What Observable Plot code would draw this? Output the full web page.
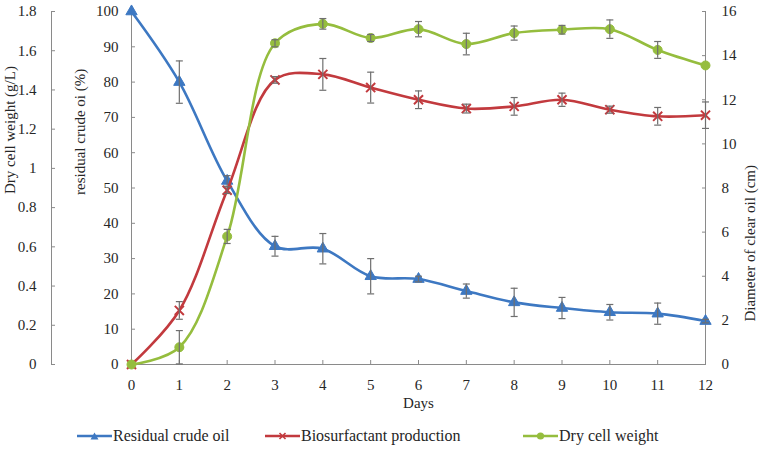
<!DOCTYPE html>
<html>
<head>
<meta charset="utf-8">
<script src="https://cdn.jsdelivr.net/npm/d3@7"></script>
<script src="https://cdn.jsdelivr.net/npm/@observablehq/plot@0.6"></script>
<style>
  body { margin: 0; background: #fff; font-family: "Liberation Serif", "Times New Roman", Times, "DejaVu Serif", serif; }
  #chart { position: relative; width: 760px; height: 456px; overflow: hidden; }
  #legend { position: absolute; left: 0; top: 420px; width: 760px; height: 36px; }
  .item { position: absolute; top: 7px; display: flex; align-items: center; font-size: 16px; color: #262626; white-space: nowrap; }
  .item svg { display: block; }
  #plot svg, #plot svg text { font-family: "Liberation Serif", "Times New Roman", Times, "DejaVu Serif", serif !important; }
</style>
</head>
<body>
<div id="chart"><div id="plot"></div><div id="legend"></div></div>
<script>
// ---- data ----
const days = [0, 1, 2, 3, 4, 5, 6, 7, 8, 9, 10, 11, 12];
// residual crude oil (%)
const residualOil    = [100, 80, 52, 33.5, 32.8, 25, 24.2, 20.8, 17.6, 16, 14.8, 14.4, 12.3];
const residualOilErr = [0, 6, 1.5, 2.8, 4.3, 5, 0.8, 2, 4, 3, 2.2, 3, 0.5];
// biosurfactant production: diameter of clear oil (cm)
const biosurfactant    = [0, 2.45, 7.9, 12.9, 13.15, 12.55, 12.0, 11.6, 11.7, 12.0, 11.55, 11.25, 11.3];
const biosurfactantErr = [0, 0.4, 0.15, 0.15, 0.72, 0.7, 0.4, 0.2, 0.4, 0.3, 0.16, 0.4, 0.6];
// dry cell weight (g/L)
const dryCellWeight    = [0, 0.088, 0.653, 1.638, 1.737, 1.665, 1.71, 1.634, 1.69, 1.707, 1.71, 1.604, 1.525];
const dryCellWeightErr = [0, 0.085, 0.036, 0.018, 0.027, 0.018, 0.039, 0.055, 0.036, 0.022, 0.047, 0.043, 0];
// tick labels
const oilTicks  = [0, 10, 20, 30, 40, 50, 60, 70, 80, 90, 100];
const dcwTicks  = [0, 0.2, 0.4, 0.6, 0.8, 1, 1.2, 1.4, 1.6, 1.8];
const diamTicks = [0, 2, 4, 6, 8, 10, 12, 14, 16];
const seriesNames = ["Residual crude oil", "Biosurfactant production", "Dry cell weight"];
const axisTitles = ["Dry cell weight (g/L)", "residual crude oi (%)", "Diameter of clear oil (cm)", "Days"];

// ---- scaling of the secondary axes onto the primary (%) axis ----
const DCW_MAX = 1.8, DIAM_MAX = 16;
const fromDcw = v => v / DCW_MAX * 100;
const fromDiam = v => v / DIAM_MAX * 100;

const colors = ["#3D78C2", "#C23A3E", "#95BD3E"];
const symbols = ["triangle", "times", "circle"];
const seriesData = [
  days.map((d, i) => ({day: d, v: residualOil[i], e: residualOilErr[i]})),
  days.map((d, i) => ({day: d, v: fromDiam(biosurfactant[i]), e: fromDiam(biosurfactantErr[i])})),
  days.map((d, i) => ({day: d, v: fromDcw(dryCellWeight[i]), e: fromDcw(dryCellWeightErr[i])}))
];

const axisColor = "#8a8a8a";
const textColor = "#262626";
const errColor = "#6f6f6f";
const serif = "'Liberation Serif', 'Times New Roman', Times, 'DejaVu Serif', serif";
const capSymbol = {draw(ctx, size) { const r = Math.sqrt(size / Math.PI); ctx.moveTo(-r, 0); ctx.lineTo(r, 0); }};

const marks = [
  Plot.ruleY([0], {stroke: axisColor}),
  Plot.ruleX([0], {stroke: axisColor}),
  Plot.ruleX([0], {stroke: axisColor, dx: -80}),
  Plot.ruleX([12], {stroke: axisColor}),
  Plot.axisX({ticks: days, tickSize: -4, tickPadding: 19, stroke: axisColor, fill: textColor, fontSize: 15, label: null}),
  Plot.axisY({anchor: "left", ticks: oilTicks, tickSize: -4, tickPadding: 17, stroke: axisColor, fill: textColor, fontSize: 15, label: null}),
  Plot.axisY({anchor: "left", ticks: dcwTicks.map(fromDcw), tickFormat: d => String(+(d * DCW_MAX / 100).toFixed(1)),
              dx: -80, tickSize: -4, tickPadding: 19, stroke: axisColor, fill: textColor, fontSize: 15, label: null}),
  Plot.axisY({anchor: "right", ticks: diamTicks.map(fromDiam), tickFormat: d => String(Math.round(d * DIAM_MAX / 100)),
              tickSize: -4, tickPadding: 20, stroke: axisColor, fill: textColor, fontSize: 15, label: null}),
  Plot.text([axisTitles[0]], {text: d => d, frameAnchor: "left", rotate: -90, dx: -121, dy: 6, fontSize: 15, fill: textColor}),
  Plot.text([axisTitles[1]], {text: d => d, frameAnchor: "left", rotate: -90, dx: -51, dy: 7, fontSize: 15, fill: textColor}),
  Plot.text([axisTitles[2]], {text: d => d, frameAnchor: "right", rotate: -90, dx: 45, dy: -23, fontSize: 15, fill: textColor}),
  Plot.text([axisTitles[3]], {text: d => d, frameAnchor: "bottom", dy: 43, fontSize: 15, fill: textColor})
];

seriesData.forEach((data, k) => {
  const withErr = data.filter(d => d.e > 0);
  marks.push(
    Plot.line(data, {x: "day", y: "v", stroke: colors[k], strokeWidth: 2.6, curve: "catmull-rom"}),
    Plot.dot(data, {x: "day", y: "v", symbol: symbols[k], r: k === 2 ? 4.5 : 4.2,
                    fill: k === 1 ? "none" : colors[k], stroke: colors[k], strokeWidth: k === 1 ? 2 : 1}),
    Plot.ruleX(withErr, {x: "day", y1: d => d.v - d.e, y2: d => d.v + d.e, stroke: errColor, strokeWidth: 1.2}),
    Plot.dot(withErr, {x: "day", y: d => d.v + d.e, symbol: capSymbol, r: 3.5, stroke: errColor, strokeWidth: 1.2}),
    Plot.dot(withErr, {x: "day", y: d => d.v - d.e, symbol: capSymbol, r: 3.5, stroke: errColor, strokeWidth: 1.2})
  );
});

const chart = Plot.plot({
  width: 760,
  height: 420,
  marginLeft: 131,
  marginRight: 55,
  marginTop: 11,
  marginBottom: 56,
  style: {fontFamily: serif, fontSize: "15px", color: textColor, background: "#fff"},
  x: {domain: [0, 12]},
  y: {domain: [0, 100]},
  marks
});
document.getElementById("plot").appendChild(chart);

// ---- legend (HTML, below the svg) ----
const legendLeft = [77, 265, 523];
const legend = document.getElementById("legend");
seriesNames.forEach((name, k) => {
  const item = document.createElement("div");
  item.className = "item";
  item.style.left = legendLeft[k] + "px";
  const c = colors[k];
  let marker = "";
  if (k === 0) marker = `<path d="M17.5,2.5 L21.5,9.5 L13.5,9.5 Z" fill="${c}"/>`;
  if (k === 1) marker = `<path d="M14.5,3 L20.5,9 M20.5,3 L14.5,9" stroke="${c}" stroke-width="1.6"/>`;
  if (k === 2) marker = `<circle cx="17.5" cy="6" r="3.6" fill="${c}"/>`;
  item.innerHTML = `<svg width="35" height="12"><line x1="0" y1="6" x2="35" y2="6" stroke="${c}" stroke-width="2.6"/>${marker}</svg><span style="margin-left:1px">${name}</span>`;
  legend.appendChild(item);
});
</script>
</body>
</html>
